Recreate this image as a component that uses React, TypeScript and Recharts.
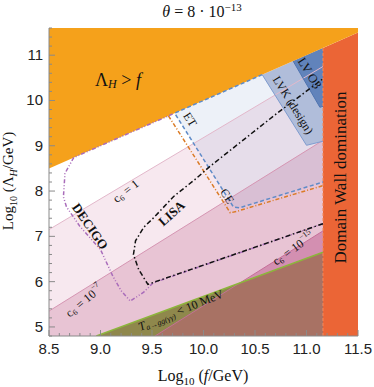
import React from "react";
import { ComposedChart, Area, Line, XAxis, YAxis, ReferenceDot } from "recharts";

const SERIF = "'Liberation Serif', 'DejaVu Serif', serif";
const SANS = "'Liberation Sans', Arial, sans-serif";

// axis ticks
const xMajor = [8.5, 9.0, 9.5, 10.0, 10.5, 11.0, 11.5];
const yMajor = [5, 6, 7, 8, 9, 10, 11];
const xTicks = Array.from({ length: 31 }, (_, i) => +(8.5 + i * 0.1).toFixed(1));
const yTicks = Array.from({ length: 35 }, (_, i) => +(4.8 + i * 0.2).toFixed(1));

// shaded regions: [log10 f, lower, upper]
const hubbleRegion = [[8.5, 8.5, 11.6], [11.5, 11.5, 11.6]];
const wallRegion = [[11.16, 4.8, 11.16], [11.5, 4.8, 11.5]];
const c6OneRegion = [[8.5, 4.8, 7.15], [11.16, 4.8, 10.75]];
const c6SevenRegion = [[8.5, 4.8, 5.35], [11.16, 4.8, 9.12]];
const c6FifteenRegion = [[9.53, 4.8, 4.8], [11.16, 4.8, 7.12]];
const decayRegion = [[8.96, 4.8, 4.8], [11.16, 4.8, 6.65]];
const decayOverlap = [[9.53, 4.8, 4.8], [10.38, 4.8, 6.0], [11.16, 4.8, 6.65]];
const etRegion = [[9.72, 9.72, 9.72], [10.29, 7.65, 10.29], [10.35, 7.63, 10.35], [11.16, 8.2, 11.16]];
const lvkRegion = [[10.57, 10.57, 10.57], [11.0, 9.01, 11.0], [11.16, 9.1, 11.16]];
const o3Region = [[10.87, 10.87, 10.87], [11.13, 9.85, 11.13], [11.16, 9.87, 11.16]];

// curves: [log10 f, log10 Lambda_H]
const c6OneLine = [[8.5, 7.15], [11.16, 10.75]];
const c6SevenLine = [[8.5, 5.35], [11.16, 9.12]];
const c6FifteenLine = [[9.53, 4.8], [11.16, 7.12]];
const decayLine = [[8.96, 4.8], [11.16, 6.65]];
const wallEdge = [[11.16, 4.8], [11.16, 11.16]];
const decigoCurve = [
  [11.16, 7.28], [9.51, 5.97], [9.42, 5.77], [9.29, 5.57], [9.2, 5.8], [9.12, 6.12],
  [9.0, 6.71], [8.8, 7.22], [8.67, 7.65], [8.64, 7.87], [8.655, 8.39], [8.74, 8.74], [9.7, 9.7],
];
const lisaCurve = [
  [11.16, 7.28], [9.46, 5.94], [9.37, 6.27], [9.32, 6.6], [9.34, 6.9], [9.42, 7.2],
  [9.52, 7.42], [9.71, 7.88], [9.93, 8.28], [10.06, 8.54], [10.71, 9.71], [11.16, 10.48],
];
const etCurve = [[10.57, 10.57], [9.72, 9.72], [10.29, 7.65], [10.35, 7.63], [11.16, 8.2]];
const ceCurve = [[9.66, 9.66], [10.26, 7.52], [10.32, 7.55], [11.16, 8.12]];
const lvkEdge = [[10.57, 10.57], [11.0, 9.01], [11.16, 9.1]];
const o3Edge = [[10.87, 10.87], [11.13, 9.85], [11.16, 9.87]];

const range = (a: number[][]) => a.map(([x, lo, hi]) => ({ x, r: [lo, hi] }));
const pts = (a: number[][]) => a.map(([x, y]) => ({ x, y }));

const isMajor = (v: number, step: number) => Math.abs(v / step - Math.round(v / step)) < 1e-6;

const BottomTick = (p: any) => {
  const v = p.payload.value;
  const major = xMajor.some((m) => Math.abs(m - v) < 1e-6);
  return (
    <g>
      <line x1={p.x} x2={p.x} y1={p.y} y2={p.y - (major ? 6 : 3)} stroke="#8a8a8a" />
      {major && (
        <text x={p.x} y={p.y + 18} textAnchor="middle" fontFamily={SANS} fontSize={15} fill="#222">
          {v.toFixed(1)}
        </text>
      )}
    </g>
  );
};
const TopTick = (p: any) => {
  const major = isMajor(p.payload.value, 0.5);
  return <line x1={p.x} x2={p.x} y1={p.y} y2={p.y + (major ? 6 : 3)} stroke="#8a8a8a" />;
};
const LeftTick = (p: any) => {
  const v = p.payload.value;
  const major = yMajor.some((m) => Math.abs(m - v) < 1e-6);
  return (
    <g>
      <line x1={p.x} x2={p.x + (major ? 6 : 3)} y1={p.y} y2={p.y} stroke="#8a8a8a" />
      {major && (
        <text x={p.x - 6} y={p.y + 5} textAnchor="end" fontFamily={SANS} fontSize={15} fill="#222">
          {v}
        </text>
      )}
    </g>
  );
};
const RightTick = (p: any) => {
  const major = isMajor(p.payload.value, 1);
  return <line x1={p.x} x2={p.x - (major ? 6 : 3)} y1={p.y} y2={p.y} stroke="#8a8a8a" />;
};

const rot = (angle: number, size: number, weight: string | number = "normal") => (content: React.ReactNode) => (p: any) => (
  <text
    x={p.cx}
    y={p.cy}
    transform={`rotate(${angle} ${p.cx} ${p.cy})`}
    textAnchor="middle"
    dominantBaseline="central"
    fontFamily={SERIF}
    fontSize={size}
    fontWeight={weight}
    fill="#111"
  >
    {content}
  </text>
);

const sub = (s: string, size = 8) => (
  <>
    <tspan dy={3} fontSize={size}>{s}</tspan>
    <tspan dy={-3}>{"\u200a"}</tspan>
  </>
);

export default function App() {
  const area = (data: number[][], fill: string, opacity = 1) => (
    <Area
      data={range(data)}
      dataKey="r"
      type="linear"
      fill={fill}
      fillOpacity={opacity}
      stroke="none"
      dot={false}
      activeDot={false}
      isAnimationActive={false}
    />
  );
  const line = (data: number[][], stroke: string, width = 1, dash?: string) => (
    <Line
      data={pts(data)}
      dataKey="y"
      type="linear"
      stroke={stroke}
      strokeWidth={width}
      strokeDasharray={dash}
      dot={false}
      activeDot={false}
      isAnimationActive={false}
    />
  );

  return (
    <div style={{ position: "absolute", left: 0, top: 0 }}>
      <ComposedChart width={374} height={387} margin={{ top: 28, right: 16, bottom: 0, left: 0 }}>
        <XAxis
          dataKey="x"
          type="number"
          domain={[8.5, 11.5]}
          allowDataOverflow
          ticks={xTicks}
          interval={0}
          tickSize={0}
          tickMargin={0}
          height={51}
          stroke="#8a8a8a"
          tick={BottomTick}
          label={(p: any) => (
            <g>
              <text x={203} y={381} textAnchor="middle" fontFamily={SERIF} fontSize={16} fill="#111">
                Log<tspan dy={4} fontSize={11}>10</tspan>
                <tspan dy={-4}> (</tspan>
                <tspan fontStyle="italic">f</tspan>/GeV)
              </text>
              <text x={202} y={17} textAnchor="middle" fontFamily={SERIF} fontSize={16} fill="#111">
                <tspan fontStyle="italic">θ</tspan> = 8 · 10<tspan dy={-6} fontSize={11}>−13</tspan>
              </text>
            </g>
          )}
        />
        <XAxis
          xAxisId="top"
          orientation="top"
          dataKey="x"
          type="number"
          domain={[8.5, 11.5]}
          allowDataOverflow
          ticks={xTicks}
          interval={0}
          tickSize={0}
          tickMargin={0}
          height={0}
          stroke="#8a8a8a"
          tick={TopTick}
        />
        <YAxis
          type="number"
          domain={[4.8, 11.6]}
          allowDataOverflow
          ticks={yTicks}
          interval={0}
          tickSize={0}
          tickMargin={0}
          width={49}
          stroke="#8a8a8a"
          tick={LeftTick}
          label={(p: any) => (
            <text
              x={13}
              y={181}
              transform="rotate(-90 13 181)"
              textAnchor="middle"
              fontFamily={SERIF}
              fontSize={15}
              fill="#111"
            >
              Log<tspan dy={4} fontSize={10}>10</tspan>
              <tspan dy={-4}> (Λ</tspan>
              <tspan dy={4} fontSize={10} fontStyle="italic">H</tspan>
              <tspan dy={-4}>/GeV)</tspan>
            </text>
          )}
        />
        <YAxis
          yAxisId="right"
          orientation="right"
          type="number"
          domain={[4.8, 11.6]}
          allowDataOverflow
          ticks={yTicks}
          interval={0}
          tickSize={0}
          tickMargin={0}
          width={0}
          stroke="#8a8a8a"
          tick={RightTick}
        />

        {area(c6OneRegion, "#F7E8EF")}
        {area(c6SevenRegion, "#E8C4D4")}
        {area(c6FifteenRegion, "#D38FB1")}
        {area(decayRegion, "#8F884C")}
        {area(decayOverlap, "#A87264")}
        {area(etRegion, "#8FA6D6", 0.16)}
        {area(lvkRegion, "#B0BDDA")}
        {area(o3Region, "#6183BB")}
        {area(wallRegion, "#EB6536")}
        {area(hubbleRegion, "#F5A11B")}

        {line(c6OneLine, "#E3B8CB")}
        {line(c6SevenLine, "#D696B3")}
        {line(c6FifteenLine, "#C56E98")}
        {line(decayLine, "#8DB53C", 1.5)}
        {line(wallEdge, "#F28A5E", 1, "3 2")}
        {line(lvkEdge, "#7F9CCF")}
        {line(o3Edge, "#4F74B0")}
        {line(ceCurve, "#DB7B26", 1.5, "4 2 1 2")}
        {line(etCurve, "#5F8BC8", 1.5, "4 2.5")}
        {line(decigoCurve, "#A96CBA", 1.5, "4 2 1 2 1 2")}
        {line(lisaCurve, "#111", 1.5, "5 2.5 1.5 2.5")}

        <ReferenceDot x={9.17} y={10.45} r={0} shape={rot(0, 18)(<>
          Λ<tspan dy={4} fontSize={12} fontStyle="italic">H</tspan>
          <tspan dy={-4}> &gt; </tspan><tspan fontStyle="italic">f</tspan>
        </>)} />
        <ReferenceDot x={9.87} y={9.58} r={0} shape={rot(58, 12)("ET")} />
        <ReferenceDot x={10.23} y={7.89} r={0} shape={rot(58, 12)("CE")} />
        <ReferenceDot x={10.87} y={9.9} r={0} shape={rot(58, 12)("LVK (design)")} />
        <ReferenceDot x={11.03} y={10.6} r={0} shape={rot(58, 12.5)("LV O3")} />
        <ReferenceDot x={9.69} y={7.51} r={0} shape={rot(-42, 13, "bold")("LISA")} />
        <ReferenceDot x={8.9} y={7.22} r={0} shape={rot(55, 13, "bold")("DECIGO")} />
        <ReferenceDot x={9.245} y={8.0} r={0} shape={rot(-38, 12)(<>c{sub("6")} = 1</>)} />
        <ReferenceDot x={8.84} y={5.58} r={0} shape={rot(-40, 12)(<>
          c{sub("6")} = 10<tspan dy={-5} fontSize={8}>−7</tspan>
        </>)} />
        <ReferenceDot x={10.87} y={6.73} r={0} shape={rot(-36, 12)(<>
          c{sub("6")} = 10<tspan dy={-5} fontSize={8}>−15</tspan>
        </>)} />
        <ReferenceDot x={9.78} y={5.37} r={0} shape={rot(-22, 12)(<>
          <tspan fontStyle="italic">T</tspan>
          <tspan dy={3} fontSize={8} fontStyle="italic">a→gg(γγ)</tspan>
          <tspan dy={-3}> &lt; 10 MeV</tspan>
        </>)} />
        <ReferenceDot x={11.33} y={8.3} r={0} shape={rot(-90, 17)("Domain Wall domination")} />
      </ComposedChart>
    </div>
  );
}
